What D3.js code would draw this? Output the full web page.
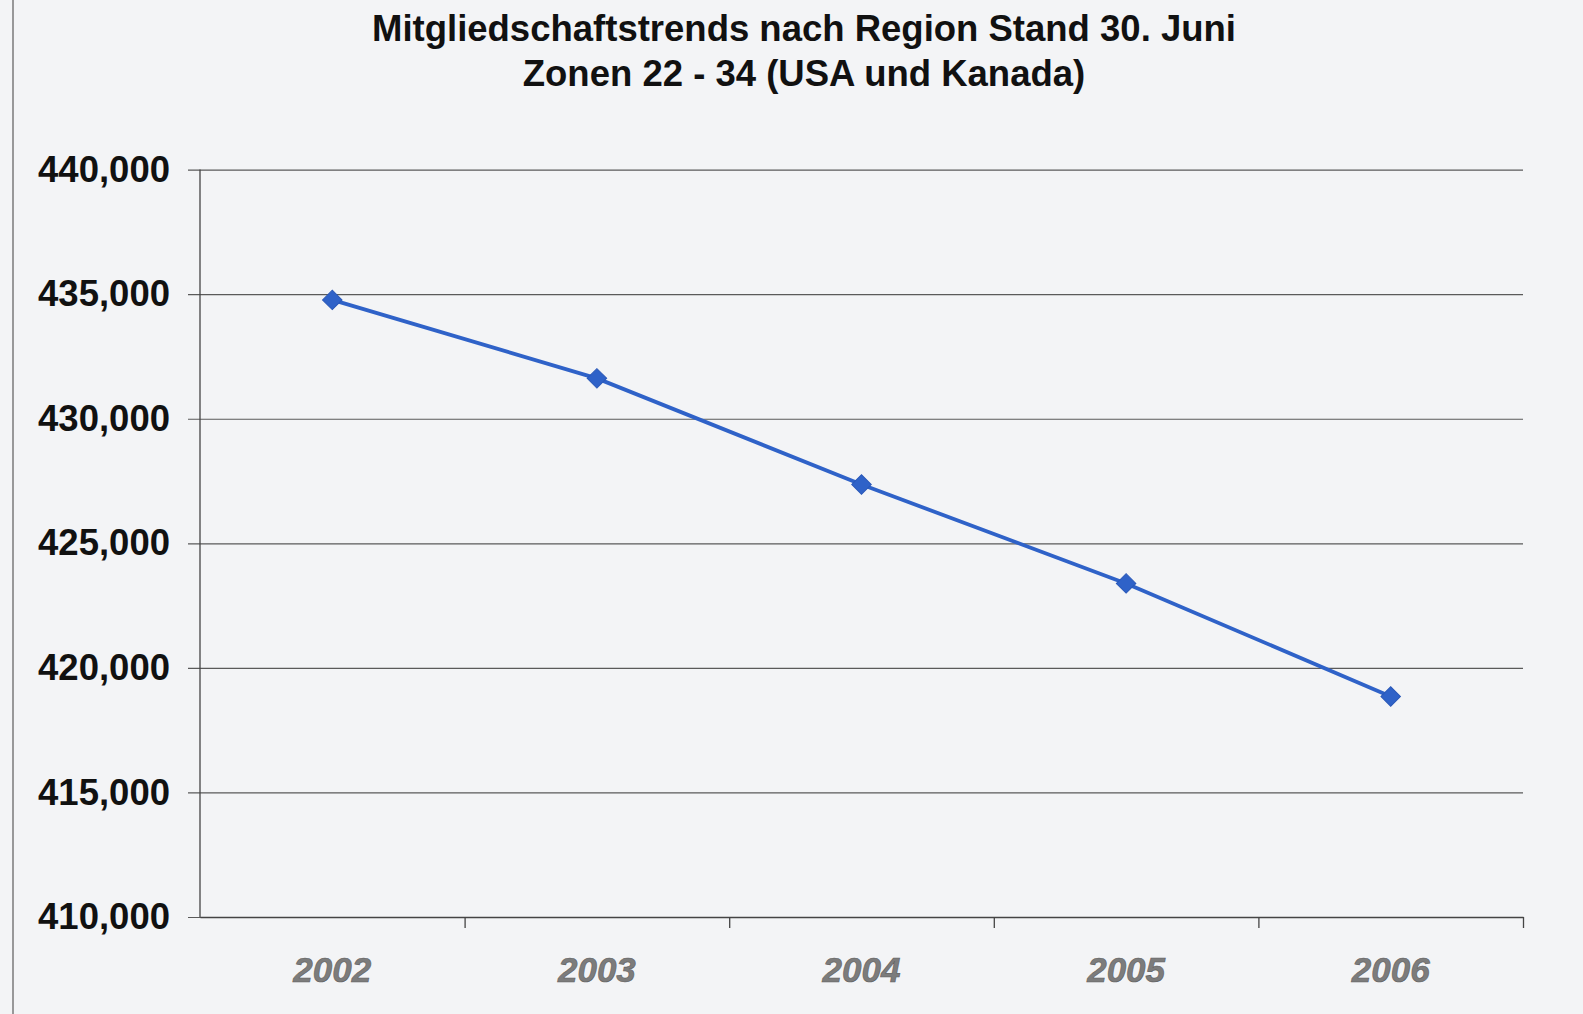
<!DOCTYPE html>
<html>
<head>
<meta charset="utf-8">
<script src="https://cdn.jsdelivr.net/npm/d3@7"></script>
<style>
	html, body { margin: 0; padding: 0; background: #f3f4f6; }
	#chart { width: 1583px; height: 1014px; }
	text { font-family: "Liberation Sans", Arial, sans-serif; }
</style>
</head>
<body>
<div id="chart"></div>
<script>
// Data
var years       = ['2002', '2003', '2004', '2005', '2006'],
    members     = [434770, 431620, 427360, 423390, 418850],
    yTickValues = [410000, 415000, 420000, 425000, 430000, 435000, 440000],
    titleLines  = ['Mitgliedschaftstrends nach Region Stand 30. Juni', 'Zonen 22 - 34 (USA und Kanada)'];

function generate_chart() {
	var W = 1583, H = 1014;
	var left = 200, right = 1523, top = 169.6, bottom = 917;

	var svg = d3.select("#chart").append("svg")
		.attr("width", W)
		.attr("height", H);

	// paper background of the scan
	svg.append("rect")
		.attr("width", W).attr("height", H)
		.style("fill", "#f3f4f6");

	// page edge line at the far left of the scan
	svg.append("line")
		.attr("x1", 13).attr("x2", 13)
		.attr("y1", 0).attr("y2", H)
		.style("stroke", "#7a7a7a")
		.style("stroke-width", "1.5px");

	var x = d3.scaleBand()
		.domain(years)
		.range([left, right])
		.paddingInner(0).paddingOuter(0);

	var xEdges = d3.scaleLinear()
		.domain([0, years.length])
		.range([left, right]);

	var y = d3.scaleLinear()
		.domain([410000, 440000])
		.range([bottom, top]);

	// gridlines + left tick marks + value labels
	var yAxis = d3.axisLeft(y)
		.tickValues(yTickValues)
		.tickSize(-(right - 188))
		.tickPadding(18)
		.tickFormat(d3.format(","));

	var gy = svg.append("g")
		.attr("transform", "translate(188,0)")
		.call(yAxis);
	gy.select(".domain").remove();
	gy.selectAll(".tick line")
		.style("stroke", "#5a5a5a")
		.style("stroke-width", "1.2px");
	gy.selectAll(".tick text")
		.style("font-size", "36.5px")
		.style("font-weight", "bold")
		.style("fill", "#111");

	// vertical axis line
	svg.append("line")
		.attr("x1", left).attr("x2", left)
		.attr("y1", y(440000)).attr("y2", y(410000))
		.style("stroke", "#444")
		.style("stroke-width", "1.3px");

	// category boundary ticks on the bottom axis
	var gxTicks = svg.append("g")
		.attr("transform", "translate(0," + bottom + ")")
		.call(d3.axisBottom(xEdges)
			.tickValues(d3.range(years.length + 1))
			.tickSize(11)
			.tickSizeOuter(0)
			.tickFormat(""));
	gxTicks.select(".domain")
		.style("stroke", "#444")
		.style("stroke-width", "1.3px");
	gxTicks.selectAll(".tick line")
		.style("stroke", "#444")
		.style("stroke-width", "1.3px");
	gxTicks.selectAll(".tick").filter(function(d) { return d === 0; }).remove();

	// year labels
	var gx = svg.append("g")
		.attr("transform", "translate(0," + bottom + ")")
		.call(d3.axisBottom(x).tickSize(0).tickPadding(40));
	gx.select(".domain").remove();
	gx.selectAll(".tick text")
		.style("font-size", "35px")
		.style("font-weight", "bold")
		.style("font-style", "italic")
		.style("fill", "#7c7c7c")
		.style("stroke", "#5e5e5e")
		.style("stroke-width", "0.6px");

	// data series
	var points = years.map(function(d, i) { return { year: d, value: members[i] }; });

	var line = d3.line()
		.x(function(d) { return x(d.year) + x.bandwidth() / 2; })
		.y(function(d) { return y(d.value); });

	svg.append("path")
		.datum(points)
		.attr("d", line)
		.style("fill", "none")
		.style("stroke", "#2f62c8")
		.style("stroke-width", "3.8px")
		.style("stroke-linejoin", "round");

	svg.selectAll(".marker")
		.data(points)
		.enter()
		.append("path")
			.attr("class", "marker")
			.attr("d", d3.symbol().type(d3.symbolSquare).size(190))
			.attr("transform", function(d) {
				return "translate(" + (x(d.year) + x.bandwidth() / 2) + "," + y(d.value) + ") rotate(45)";
			})
			.style("fill", "#2f62c8")
			.style("stroke", "#2a58b8")
			.style("stroke-width", "1px");

	// title
	svg.selectAll(".title")
		.data(titleLines)
		.enter()
		.append("text")
			.attr("class", "title")
			.attr("x", 804)
			.attr("y", function(d, i) { return 40.5 + i * 45.5; })
			.attr("text-anchor", "middle")
			.style("font-size", "36.5px")
			.style("font-weight", "bold")
			.style("fill", "#111")
			.text(function(d) { return d; });
} // generate_chart

generate_chart();
</script>
</body>
</html>
